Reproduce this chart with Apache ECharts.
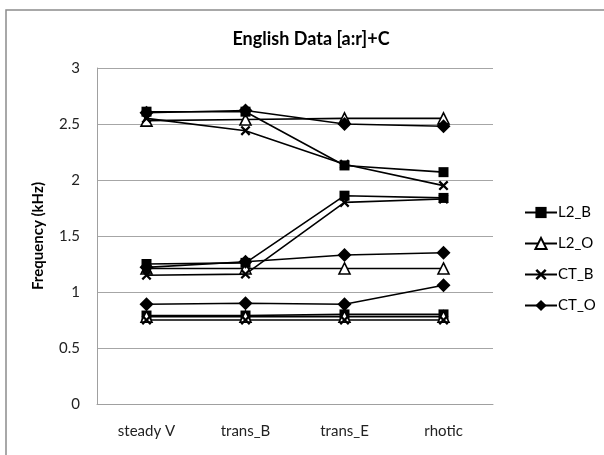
<!DOCTYPE html>
<html>
<head>
<meta charset="utf-8">
<script src="https://cdn.jsdelivr.net/npm/echarts@6/dist/echarts.min.js"></script>
<style>
  html, body { margin: 0; padding: 0; background: #fff; }
  #main { width: 604px; height: 455px; }
</style>
</head>
<body>
<div id="main"></div>
<script>
// categories and tick values
const categories = ['steady V', 'trans_B', 'trans_E', 'rhotic'];
const yTicks = [0, 0.5, 1, 1.5, 2, 2.5, 3];

// formant values (kHz) per speaker group: F1, F2, F3
const l2bF1 = [0.79, 0.79, 0.80, 0.80];
const l2bF2 = [1.25, 1.26, 1.86, 1.84];
const l2bF3 = [2.61, 2.61, 2.13, 2.07];

const l2oF1 = [0.78, 0.78, 0.78, 0.78];
const l2oF2 = [1.21, 1.21, 1.21, 1.21];
const l2oF3 = [2.53, 2.54, 2.55, 2.55];

const ctbF1 = [0.75, 0.75, 0.75, 0.75];
const ctbF2 = [1.15, 1.16, 1.80, 1.83];
const ctbF3 = [2.55, 2.44, 2.14, 1.95];

const ctoF1 = [0.89, 0.90, 0.89, 1.06];
const ctoF2 = [1.22, 1.27, 1.33, 1.35];
const ctoF3 = [2.60, 2.62, 2.50, 2.48];

const FONT = 'Lato, "Open Sans", sans-serif';
const crossPath = 'path://M0,1.6L1.6,0L5,3.4L8.4,0L10,1.6L6.6,5L10,8.4L8.4,10L5,6.6L1.6,10L0,8.4L3.4,5Z';

const groups = [
  {name: 'L2_B', symbol: 'rect', size: 10, fill: '#000', lines: [l2bF1, l2bF2, l2bF3]},
  {name: 'L2_O', symbol: 'triangle', size: 11, fill: '#fff', lines: [l2oF1, l2oF2, l2oF3]},
  {name: 'CT_B', symbol: crossPath, size: 10, fill: '#000', lines: [ctbF1, ctbF2, ctbF3]},
  {name: 'CT_O', symbol: 'diamond', size: 14, fill: '#000', lines: [ctoF1, ctoF2, ctoF3]}
];

let series = [];
groups.forEach(g => {
  g.lines.forEach(values => {
    series.push({
      name: g.name,
      type: 'line',
      data: values,
      symbol: g.symbol,
      symbolSize: g.size,
      showAllSymbol: true,
      lineStyle: {color: '#000', width: 1.6},
      itemStyle: {color: g.fill, borderColor: '#000', borderWidth: g.fill === '#fff' ? 1.6 : 0},
      emphasis: {disabled: true},
      animation: false
    });
  });
});

let chart = echarts.init(document.getElementById('main'));
chart.setOption({
  backgroundColor: '#fff',
  title: {
    text: 'English Data [a:r]+C',
    left: 306,
    top: 25,
    textAlign: 'center',
    textStyle: {fontFamily: FONT, fontWeight: 'bold', fontSize: 18, color: '#000'}
  },
  graphic: [{
    type: 'rect',
    shape: {x: 6, y: 10, width: 640, height: 480},
    style: {fill: 'none', stroke: '#8c8c8c', lineWidth: 1.5},
    silent: true
  }],
  legend: {
    orient: 'vertical',
    left: 519,
    top: 200,
    itemWidth: 32,
    itemHeight: 14,
    itemGap: 16,
    textStyle: {fontFamily: FONT, fontSize: 15, color: '#000', padding: [0, 0, 0, -4]},
    data: groups.map(g => g.name)
  },
  grid: {left: 97, right: 111, top: 68, bottom: 51},
  xAxis: {
    type: 'category',
    data: categories,
    boundaryGap: true,
    axisLine: {lineStyle: {color: '#a0a0a0', width: 1}},
    axisTick: {show: false},
    axisLabel: {fontFamily: FONT, fontSize: 15, color: '#222', margin: 20}
  },
  yAxis: {
    type: 'value',
    min: yTicks[0],
    max: yTicks[yTicks.length - 1],
    interval: 0.5,
    name: 'Frequency (kHz)',
    nameLocation: 'middle',
    nameGap: 51,
    nameTextStyle: {fontFamily: FONT, fontWeight: 'bold', fontSize: 15, color: '#000'},
    axisLine: {show: true, lineStyle: {color: '#a0a0a0', width: 1}},
    axisTick: {show: false},
    axisLabel: {fontFamily: FONT, fontSize: 15, color: '#222', margin: 17},
    splitLine: {lineStyle: {color: '#a6a6a6', width: 1}}
  },
  series: series
});
</script>
</body>
</html>
